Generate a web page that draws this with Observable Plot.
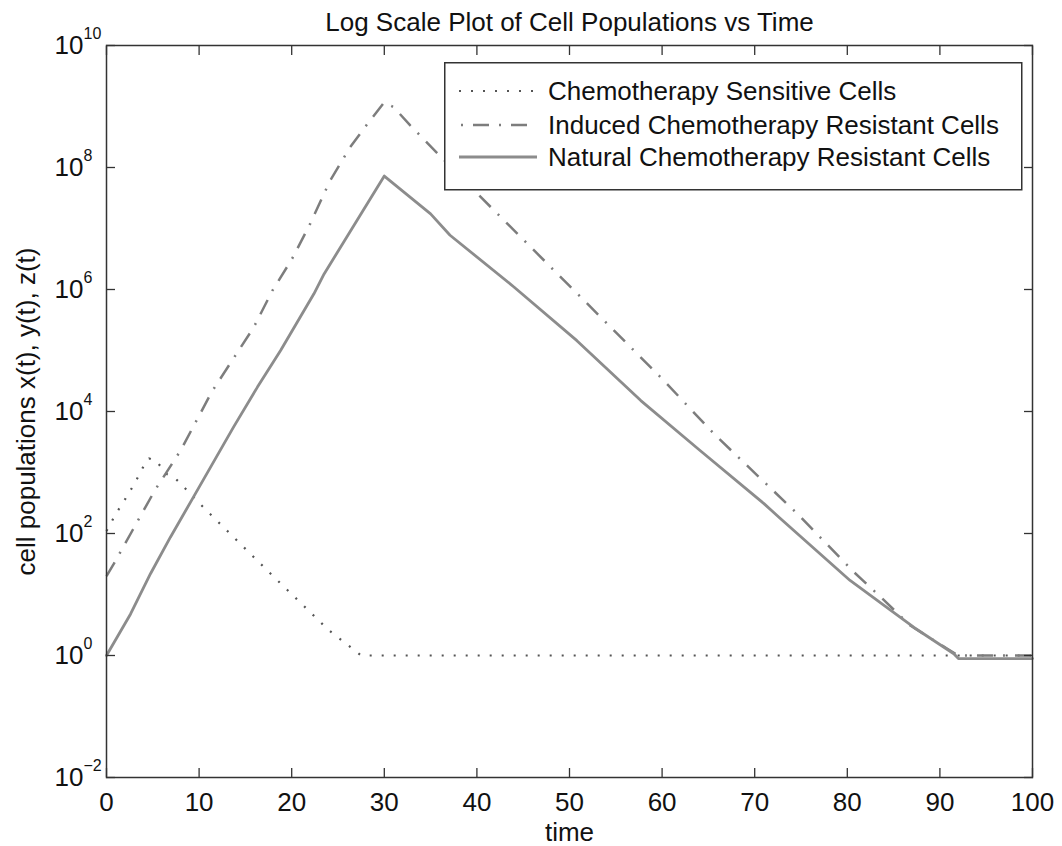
<!DOCTYPE html>
<html><head><meta charset="utf-8">
<script src="https://cdn.jsdelivr.net/npm/d3@7"></script>
<script src="https://cdn.jsdelivr.net/npm/@observablehq/plot@0.6"></script>
<style>
body{margin:0;background:#fff;font-family:"Liberation Sans",Arial,Helvetica,sans-serif;}
#wrap{position:relative;width:1062px;height:846px;}
#legend{position:absolute;left:444px;top:62px;}
</style>
</head><body>
<div id="wrap"><div id="chart"></div><div id="legend"></div></div>
<script>
// ---- data ----
const title = "Log Scale Plot of Cell Populations vs Time";
const xLabel = "time";
const yLabel = "cell populations x(t), y(t), z(t)";
const seriesNames = ["Chemotherapy Sensitive Cells", "Induced Chemotherapy Resistant Cells", "Natural Chemotherapy Resistant Cells"];
const xTicks = [0, 10, 20, 30, 40, 50, 60, 70, 80, 90, 100];
const yTicks = [1e-2, 1e0, 1e2, 1e4, 1e6, 1e8, 1e10];

const sensT = [0, 1, 2, 3, 4, 4.6, 5.4, 6.4, 7.3, 8, 10, 12, 15, 18.3, 21, 24, 27.5, 100];
const sensV = [110, 209, 363, 646, 1259, 1700, 1550, 955, 832, 660, 316, 158, 56, 18, 7.2, 2.6, 1, 1];

const indT = [0, 0.8, 2.8, 4.9, 5.4, 8, 11.4, 15.9, 17.9, 20.05, 22, 24.1, 26.3, 28.2, 30, 31, 32.8, 37.9, 45, 51.9, 60.2, 65.6, 74.7, 80.7, 83.6, 86.8, 90.8, 92, 100];
const indV = [20, 32, 112, 417, 562, 2290, 2.14e4, 2.4e5, 9.5e5, 3.2e6, 1.2e7, 5.9e7, 2.14e8, 5.25e8, 1.17e9, 9.8e8, 4.9e8, 7.9e7, 6.6e6, 5.9e5, 3.2e4, 4300, 204, 23.4, 9.1, 3.1, 1.29, 1, 1];

const natT = [0, 2.6, 4.75, 6.9, 9.4, 13.7, 16.3, 18.8, 22.4, 23.5, 30, 35, 37.1, 44, 50.8, 57.7, 64.1, 71, 72.8, 80.3, 84.7, 87.2, 91.5, 92, 100];
const natV = [1, 4.8, 21.9, 87, 398, 5500, 2.51e4, 1e5, 8.5e5, 1.8e6, 7.24e7, 1.74e7, 7.76e6, 1.1e6, 1.45e5, 1.51e4, 2290, 309, 174, 17, 5.5, 2.88, 1.07, 0.89, 0.89];

const toRows = (T, V) => T.map((t, i) => ({t, v: V[i]}));
const sens = toRows(sensT, sensV), ind = toRows(indT, indV), nat = toRows(natT, natV);

const styles = [
  {stroke: "#555555", strokeWidth: 2.2, strokeDasharray: "2,10", legendOffset: 0},
  {stroke: "#7d7d7d", strokeWidth: 2.5, strokeDasharray: "16,10,2,10", legendOffset: 24},
  {stroke: "#8c8c8c", strokeWidth: 2.8, strokeDasharray: null, legendOffset: 0}
];

const font = "'Liberation Sans', Arial, Helvetica, sans-serif";
const chart = Plot.plot({
  width: 1062, height: 846,
  marginTop: 45, marginBottom: 69, marginLeft: 106, marginRight: 30,
  style: {fontFamily: font, fontSize: "26px", color: "#111", background: "#fff", overflow: "visible"},
  x: {domain: [0, 100]},
  y: {type: "log", domain: [1e-2, 1e10]},
  marks: [
    Plot.line(sens, {x: "t", y: "v", stroke: styles[0].stroke, strokeWidth: styles[0].strokeWidth, strokeDasharray: styles[0].strokeDasharray, strokeLinecap: "butt"}),
    Plot.line(ind, {x: "t", y: "v", stroke: styles[1].stroke, strokeWidth: styles[1].strokeWidth, strokeDasharray: styles[1].strokeDasharray, strokeLinecap: "butt"}),
    Plot.line(nat, {x: "t", y: "v", stroke: styles[2].stroke, strokeWidth: styles[2].strokeWidth}),
    Plot.frame({stroke: "#333", strokeWidth: 1.5}),
    Plot.axisX({anchor: "bottom", ticks: xTicks, tickSize: -9, tickPadding: 24, label: null, tickFormat: d => String(d), stroke: "#333", strokeWidth: 1.3}),
    Plot.axisX({anchor: "top", ticks: xTicks, tickSize: -9, label: null, tickFormat: () => "", stroke: "#333", strokeWidth: 1.3}),
    Plot.axisY({anchor: "left", ticks: yTicks, tickSize: -9, tickPadding: 32, label: null, tickFormat: d => String(Math.round(Math.log10(d))), stroke: "#333", strokeWidth: 1.3}),
    Plot.axisY({anchor: "right", ticks: yTicks, tickSize: -9, label: null, tickFormat: () => "", stroke: "#333", strokeWidth: 1.3}),
    Plot.text([title], {text: d => d, frameAnchor: "top", textAnchor: "middle", lineAnchor: "middle", dy: -23, fontSize: 26, fill: "#111"}),
    Plot.text([xLabel], {text: d => d, frameAnchor: "bottom", textAnchor: "middle", lineAnchor: "middle", dy: 55, fontSize: 26, fill: "#111"}),
    Plot.text([yLabel], {text: d => d, frameAnchor: "left", textAnchor: "middle", lineAnchor: "middle", dx: -80, rotate: -90, fontSize: 26, fill: "#111"})
  ]
});
document.getElementById("chart").appendChild(chart);

// superscript exponents on y tick labels (10^n)
chart.querySelectorAll('g[aria-label="y-axis tick label"] text').forEach(t => {
  const e = t.textContent;
  if (e === "") return;
  t.textContent = "10";
  const ts = document.createElementNS("http://www.w3.org/2000/svg", "tspan");
  ts.setAttribute("x", t.getAttribute("x") || 0);
  ts.setAttribute("dy", "-15");
  ts.setAttribute("text-anchor", "start");
  ts.setAttribute("font-size", "16");
  ts.textContent = e.replace("-", "\u2212");
  t.appendChild(ts);
});

// legend box inside the axes
const lg = d3.select("#legend").append("svg").attr("width", 580).attr("height", 130)
  .style("font-family", font).style("font-size", "26px");
lg.append("rect").attr("x", 0.75).attr("y", 0.75).attr("width", 577).attr("height", 127)
  .attr("fill", "#fff").attr("stroke", "#333").attr("stroke-width", 1.5);
const rowY = [29, 63, 95];
seriesNames.forEach((name, i) => {
  const s = styles[i];
  lg.append("line").attr("x1", 15).attr("x2", 93).attr("y1", rowY[i]).attr("y2", rowY[i])
    .attr("stroke", s.stroke).attr("stroke-width", s.strokeWidth)
    .attr("stroke-dasharray", s.strokeDasharray).attr("stroke-dashoffset", s.legendOffset);
  lg.append("text").attr("x", 104).attr("y", rowY[i]).attr("dy", "0.35em").attr("fill", "#111").text(name);
});
</script>
</body></html>
